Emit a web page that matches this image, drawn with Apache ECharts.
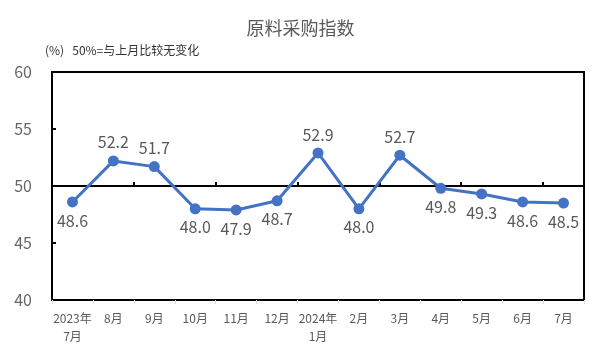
<!DOCTYPE html>
<html>
<head>
<meta charset="utf-8">
<script src="https://cdn.jsdelivr.net/npm/echarts@6/dist/echarts.min.js"></script>
<style>
  html, body { margin: 0; padding: 0; background: #fff; }
  #main { width: 601px; height: 355px; }
</style>
</head>
<body>
<div id="main"></div>
<script>
var months = ['2023年\n7月', '8月', '9月', '10月', '11月', '12月', '2024年\n1月', '2月', '3月', '4月', '5月', '6月', '7月'];
var purchaseIndex = [48.6, 52.2, 51.7, 48.0, 47.9, 48.7, 52.9, 48.0, 52.7, 49.8, 49.3, 48.6, 48.5];
var labelAbove = [false, true, true, false, false, false, true, false, true, false, false, false, false];

var font = '"Microsoft YaHei", "Noto Sans CJK SC", sans-serif';
var myChart = echarts.init(document.getElementById('main'));

var option = {
    animation: false,
    title: [{
        text: '原料采购指数',
        left: 'center',
        top: 14,
        textStyle: { fontSize: 18, fontWeight: 'normal', color: '#595959', fontFamily: font }
    }, {
        text: '(%)   50%=与上月比较无变化',
        left: 40,
        top: 39,
        textStyle: { fontSize: 12, fontWeight: 'normal', color: '#333', fontFamily: font }
    }],
    grid: {
        left: 52, right: 17, top: 72, bottom: 55,
        show: true, borderColor: '#000', borderWidth: 2
    },
    xAxis: [{
        type: 'category',
        data: months,
        boundaryGap: true,
        axisLine: { show: false },
        axisTick: { show: true, inside: false, length: 4, lineStyle: { color: '#d9d9d9' } },
        axisLabel: { color: '#595959', fontSize: 12, margin: 9, lineHeight: 18, fontFamily: font, interval: 0 }
    }, {
        // the 50 line, with ticks pointing up
        type: 'category',
        data: months,
        position: 'bottom',
        offset: -114,
        boundaryGap: true,
        axisLine: { show: true, lineStyle: { color: '#000', width: 2 } },
        axisTick: { show: true, inside: true, length: 4, lineStyle: { color: '#000', width: 2 } },
        axisLabel: { show: false }
    }],
    yAxis: {
        type: 'value',
        min: 40, max: 60, interval: 5,
        axisLine: { show: false },
        axisTick: { show: true, inside: true, length: 4, lineStyle: { color: '#000', width: 2 } },
        splitLine: { show: false },
        axisLabel: { color: '#666', fontSize: 16, margin: 20, fontFamily: font }
    },
    series: [{
        type: 'line',
        data: purchaseIndex.map(function (v, i) {
            return {
                value: v,
                label: { position: labelAbove[i] ? 'top' : 'bottom' }
            };
        }),
        symbol: 'circle',
        symbolSize: 11,
        lineStyle: { color: '#4472C4', width: 3 },
        itemStyle: { color: '#4472C4' },
        label: {
            show: true,
            color: '#595959',
            fontSize: 16,
            distance: 5,
            fontFamily: font,
            formatter: function (p) { return p.value.toFixed(1); }
        }
    }]
};
myChart.setOption(option);
</script>
</body>
</html>
